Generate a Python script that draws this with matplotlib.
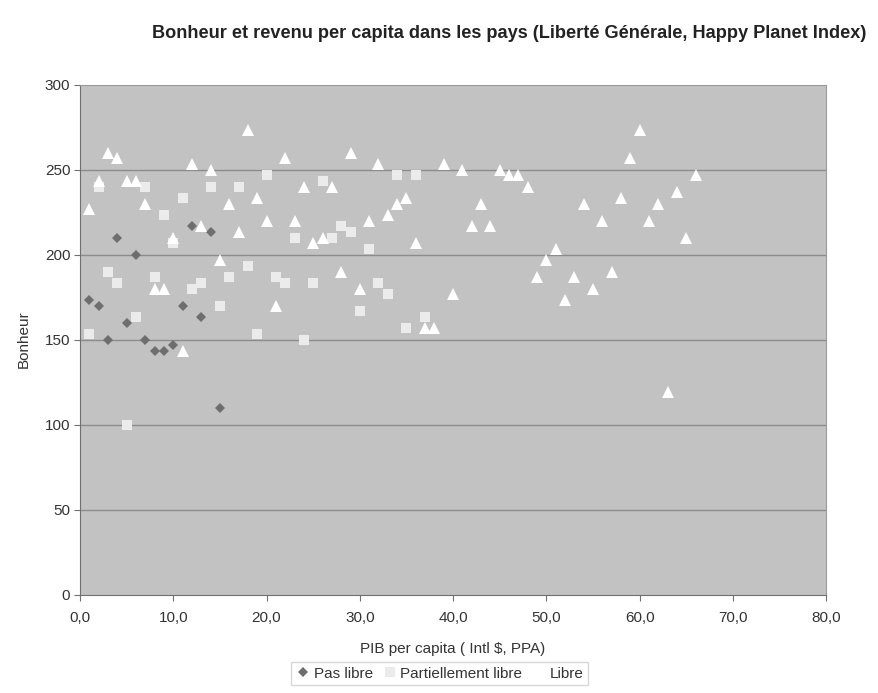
import matplotlib.pyplot as plt
from matplotlib.ticker import FuncFormatter, MultipleLocator

# Pas libre (losanges)
pas_libre_x = [1, 2, 3, 4, 5, 6, 7, 8, 9, 10, 11, 12, 13, 14, 15]
pas_libre_y = [173, 170, 150, 210, 160, 200, 150, 143, 143, 147, 170, 217, 163, 213, 110]

# Partiellement libre (carres)
partiel_x = list(range(1, 38))
partiel_y = [153, 240, 190, 183, 100, 163, 240, 187, 223, 207,
             233, 180, 183, 240, 170, 187, 240, 193, 153, 247,
             187, 183, 210, 150, 183, 243, 210, 217, 213, 167,
             203, 183, 177, 247, 157, 247, 163]

# Libre (triangles)
libre_x = list(range(1, 67))
libre_y = [227, 243, 260, 257, 243, 243, 230, 180, 180, 210,
           143, 253, 217, 250, 197, 230, 213, 273, 233, 220,
           170, 257, 220, 240, 207, 210, 240, 190, 260, 180,
           220, 253, 223, 230, 233, 207, 157, 157, 253, 177,
           250, 217, 230, 217, 250, 247, 247, 240, 187, 197,
           203, 173, 187, 230, 180, 220, 190, 233, 257, 273,
           220, 230, 119, 237, 210, 247]

plt.rcParams['font.family'] = ['Liberation Sans', 'DejaVu Sans']
text_col = '#333333'

fig = plt.figure(figsize=(8.79, 6.93), dpi=100)
ax = fig.add_axes([0.091, 0.142, 0.849, 0.736])
ax.set_facecolor('#c2c2c2')

for y in range(50, 300, 50):
    ax.axhline(y, color='#8c8c8c', linewidth=1, zorder=1)

ax.plot(pas_libre_x, pas_libre_y, linestyle='none', marker='D', markersize=5.5,
        color='#6e6e6e', markeredgewidth=0, label='Pas libre', zorder=3)
ax.plot(partiel_x, partiel_y, linestyle='none', marker='s', markersize=7.5,
        color='#ebebeb', markeredgewidth=0, label='Partiellement libre', zorder=3)
ax.plot(libre_x, libre_y, linestyle='none', marker='^', markersize=9,
        color='#ffffff', markeredgewidth=0, label='Libre', zorder=3)

ax.set_xlim(0, 80)
ax.set_ylim(0, 300)
ax.xaxis.set_major_locator(MultipleLocator(10))
ax.yaxis.set_major_locator(MultipleLocator(50))
ax.xaxis.set_major_formatter(FuncFormatter(lambda v, p: f"{v:.1f}".replace('.', ',')))

for side in ['top', 'right']:
    ax.spines[side].set_color('#9a9a9a')
for side in ['left', 'bottom']:
    ax.spines[side].set_color('#707070')

ax.tick_params(axis='both', colors='#707070', labelcolor=text_col, labelsize=11, length=4)
ax.tick_params(axis='x', pad=8)
ax.tick_params(axis='y', pad=3)

ax.set_xlabel('PIB per capita ( Intl $, PPA)', fontsize=11, color=text_col, labelpad=12)
ax.set_ylabel('Bonheur', fontsize=11, color=text_col, labelpad=10)

fig.text(0.986, 0.952, 'Bonheur et revenu per capita dans les pays (Liberté Générale, Happy Planet Index)',
         ha='right', va='center', fontsize=13.1, fontweight='bold', color='#222222')

leg = fig.legend(loc='lower center', bbox_to_anchor=(0.5, 0.0), ncol=3, fontsize=11,
                 frameon=True, fancybox=False, edgecolor='#cfcfcf', handletextpad=0.2,
                 columnspacing=0.6, handlelength=1.0, borderpad=0.3)
for t in leg.get_texts():
    t.set_color(text_col)

plt.savefig('out.png', dpi=100)
plt.close()
